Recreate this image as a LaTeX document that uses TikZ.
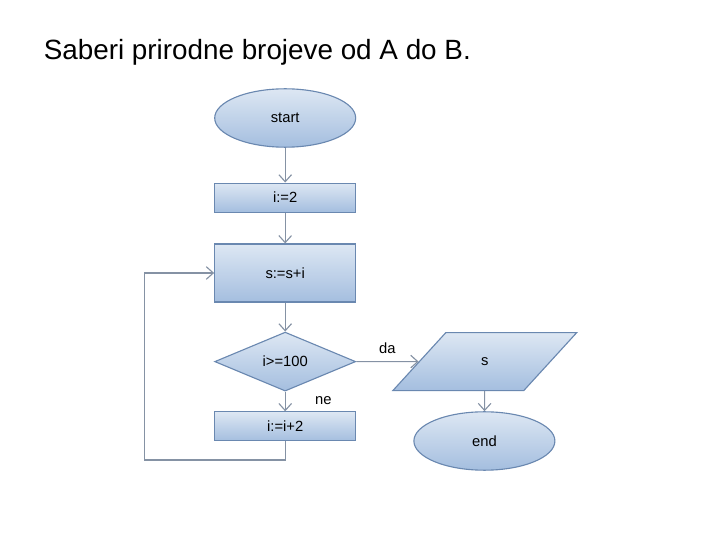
\documentclass[tikz,border=0pt]{standalone}
\usepackage{fontspec}
\setmainfont{Liberation Sans}
\usetikzlibrary{arrows.meta,shapes.geometric}
\definecolor{boxtop}{HTML}{DDE7F3}
\definecolor{boxbot}{HTML}{A4BEDF}
\definecolor{boxline}{HTML}{6A88B0}
\definecolor{flowline}{HTML}{8592A4}
\tikzset{
  blockbase/.style={draw=boxline, thick, top color=boxtop, bottom color=boxbot,
    font=\fontsize{10.5}{12}\selectfont, align=center, inner sep=1pt},
  procbox/.style={blockbase, rectangle, minimum width=3.525cm},
  termbox/.style={blockbase, ellipse, minimum width=3.525cm, minimum height=1.46cm},
  decbox/.style={blockbase, diamond, minimum width=3.525cm, minimum height=1.475cm, shape aspect=2.4},
  iobox/.style={blockbase, trapezium, trapezium left angle=57.5, trapezium right angle=122.5,
    trapezium stretches=true, minimum width=4.6cm, minimum height=1.45cm},
  flow/.style={-{Straight Barb[length=5pt,width=9pt]}, flowline, thick},
  flowlabel/.style={font=\fontsize{10.5}{12}\selectfont, text=black, inner sep=1pt},
}

\begin{document}
\begin{tikzpicture}

  \useasboundingbox (0,0) rectangle (18,13.5);

  %% ---- title ----
  \node[anchor=west, font=\fontsize{19.8}{23}\selectfont] (title) at (0.97, 12.2) {Saberi prirodne brojeve od A do B.};

  %% ---- main column ----
  \node[termbox] (start) at (7.13, 10.55) {start};
  \node[procbox, minimum height=0.725cm] (init) at (7.13, 8.56) {i:=2};
  \node[procbox, minimum height=1.45cm] (sum) at (7.13, 6.675) {s:=s+i};
  \node[decbox] (test) at (7.13, 4.46) {i>=100};
  \node[procbox, minimum height=0.725cm] (step2) at (7.13, 2.84) {i:=i+2};

  %% ---- right column ----
  \node[iobox] (out) at (12.12, 4.46) {s};
  \node[termbox] (stop) at (12.11, 2.475) {end};

  \coordinate (lb) at (3.62, 2.0);

  \draw[flow] (start) -- (init);
  \draw[flow] (init) -- (sum);
  \draw[flow] (sum) -- (test);
  \draw[flow] (test) -- node[flowlabel, right=0.7cm, pos=0.45] {ne} (step2);
  \draw[flow] (step2.south) |- (lb) |- (sum.west);
  \draw[flow] (test.east) -- node[flowlabel, above=4pt, pos=0.5] {da} (out);
  \draw[flow] (out) -- (stop);

\end{tikzpicture}
\end{document}
